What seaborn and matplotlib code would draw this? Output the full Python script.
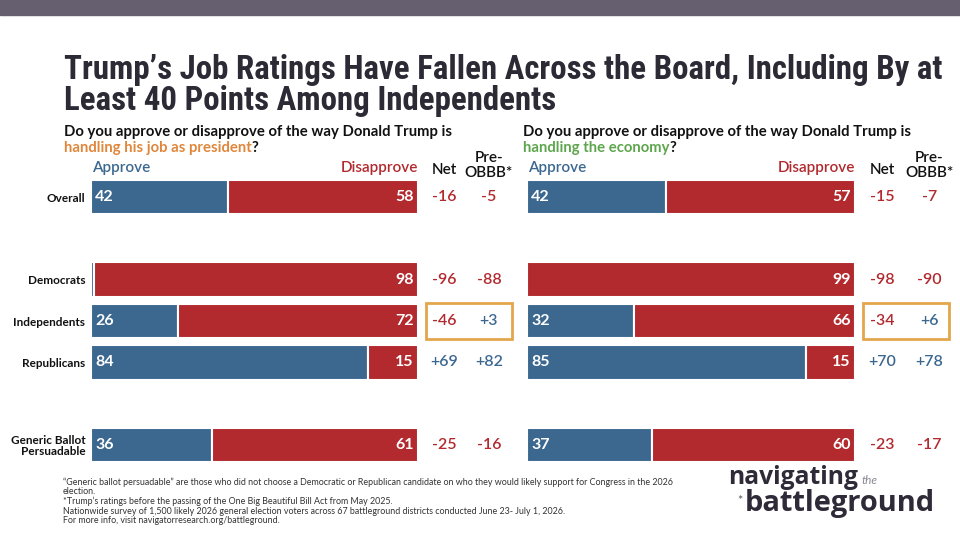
import matplotlib
matplotlib.use("Agg")
import matplotlib.pyplot as plt
import pandas as pd
import seaborn as sns
from matplotlib import font_manager
from matplotlib.patches import Rectangle

# ---- data -------------------------------------------------------------
groups = ["Overall", "Democrats", "Independents", "Republicans", "Generic Ballot\nPersuadable"]
row_order = ["Overall", "", "Democrats", "Independents", "Republicans", " ", "Generic Ballot\nPersuadable"]

job_approve = [42, 1, 26, 84, 36]
job_disapprove = [58, 98, 72, 15, 61]
job_net = [-16, -96, -46, 69, -25]
job_pre = [-5, -88, 3, 82, -16]

econ_approve = [42, 0, 32, 85, 37]
econ_disapprove = [57, 99, 66, 15, 60]
econ_net = [-15, -98, -34, 70, -23]
econ_pre = [-7, -90, 6, 78, -17]

highlight = "Independents"

title_lines = [
    "Trump\u2019s Job Ratings Have Fallen Across the Board, Including By at",
    "Least 40 Points Among Independents",
]
footnotes = [
    "\u201cGeneric ballot persuadable\u201d are those who did not choose a Democratic or Republican candidate on who they would likely support for Congress in the 2026",
    "election.",
    "*Trump\u2019s ratings before the passing of the One Big Beautiful Bill Act from May 2025.",
    "Nationwide survey of 1,500 likely 2026 general election voters across 67 battleground districts conducted June 23- July 1, 2026.",
    "For more info, visit navigatorresearch.org/battleground.",
]

# ---- style ------------------------------------------------------------
BLUE = "#3c6890"
RED = "#b2292e"
BOX = "#e2a64c"
ORANGE = "#e0873b"
GREEN = "#5ea64e"
DARK = "#2b2a35"
W, H = 960, 540

sns.set_style("white")
names = {f.name for f in font_manager.fontManager.ttflist}
condensed = [c for c in ["Roboto Condensed", "Liberation Sans Narrow", "Open Sans Condensed",
                         "DejaVu Sans Condensed", "Noto Sans Condensed"] if c in names]
TITLE_FONT = condensed[0] if condensed else "Roboto"
plt.rcParams["font.family"] = ["Lato", "DejaVu Sans"]

fig = plt.figure(figsize=(9.6, 5.4), dpi=100)
fig.patch.set_facecolor("white")
renderer = fig.canvas.get_renderer()


def fit_text(x, y, s, width_px, size, **kw):
    """Place a figure text and shrink/grow its size so it spans width_px."""
    t = fig.text(x / W, 1 - y / H, s, fontsize=size, va="center", **kw)
    w = t.get_window_extent(renderer).width
    t.set_fontsize(size * width_px / w)
    return t


# top band
fig.patches.append(Rectangle((0, 1 - 15 / H), 1, 15 / H, transform=fig.transFigure,
                             color="#665f6f", zorder=0))

t1 = fit_text(64, 70, title_lines[0], 877, 20, fontweight="bold", color=DARK, family=TITLE_FONT)
fig.text(64 / W, 1 - 101 / H, title_lines[1], fontsize=t1.get_fontsize(), fontweight="bold",
         color=DARK, family=TITLE_FONT, va="center")


def draw_panel(ax, approve, disapprove, net, pre, net_x, pre_x, show_labels):
    df = pd.DataFrame({"group": groups, "approve": approve, "disapprove": disapprove})
    total = df["approve"] + df["disapprove"]
    df["approve_share"] = df["approve"] / total * 100
    df["disapprove_share"] = df["disapprove"] / total * 100

    sns.barplot(data=df, x="approve_share", y="group", order=row_order, color=BLUE, saturation=1,
                width=0.84, edgecolor="white", linewidth=1.5, errorbar=None, ax=ax)
    sns.barplot(data=df, x="disapprove_share", y="group", order=row_order, color=RED, saturation=1,
                width=0.84, edgecolor="white", linewidth=1.5, errorbar=None, ax=ax)
    # stack disapprove after approve
    for bar in ax.containers[1]:
        bar.set_x(100 - bar.get_width())

    ax.set_xlim(0, 100)
    ax.set_ylim(6.5, -0.5)
    ax.set_xticks([])
    ax.set_xlabel("")
    ax.set_ylabel("")
    sns.despine(ax=ax, left=True, bottom=True)
    ax.tick_params(axis="y", length=0, pad=4)
    if show_labels:
        for lab in ax.get_yticklabels():
            lab.set_fontsize(8.5)
            lab.set_fontweight("bold")
            lab.set_color("#111111")
            lab.set_linespacing(1.0)
    else:
        ax.set_yticklabels([])

    for g, a, d, n, p in zip(groups, approve, disapprove, net, pre):
        y = row_order.index(g)
        if a >= 5:
            ax.text(1.3, y, str(a), color="white", fontsize=11.5, fontweight="bold",
                    va="center", ha="left")
        ax.text(98.6, y, str(d), color="white", fontsize=11.5, fontweight="bold",
                va="center", ha="right")
        ax.text(net_x, y, f"{n:+d}", color=RED if n < 0 else BLUE, fontsize=11.5,
                fontweight="semibold", va="center", ha="center", clip_on=False)
        ax.text(pre_x, y, f"{p:+d}", color=RED if p < 0 else BLUE, fontsize=11.5,
                fontweight="semibold", va="center", ha="center", clip_on=False)

    hy = row_order.index(highlight)
    ax.add_patch(Rectangle((102.3, hy - 0.44), 26.3, 0.88, fill=False, edgecolor=BOX,
                           linewidth=2, clip_on=False))

    ax.text(0.3, -0.7, "Approve", color=BLUE, fontsize=11, fontweight="semibold",
            va="center", ha="left")
    ax.text(100, -0.7, "Disapprove", color=RED, fontsize=11, fontweight="semibold",
            va="center", ha="right")
    ax.text(net_x, -0.66, "Net", color="#111111", fontsize=11, fontweight="semibold",
            va="center", ha="center", clip_on=False)
    ax.text(pre_x, -0.42, "Pre-\nOBBB*", color="#111111", fontsize=11, fontweight="semibold",
            va="bottom", ha="center", clip_on=False, linespacing=1.1)


ax_l = fig.add_axes([91 / W, 0.1376, 327 / W, 0.5358])
ax_r = fig.add_axes([527 / W, 0.1376, 328 / W, 0.5358])
ax_l.patch.set_alpha(0)
ax_r.patch.set_alpha(0)

draw_panel(ax_l, job_approve, job_disapprove, job_net, job_pre, 108.0, 121.7, True)
draw_panel(ax_r, econ_approve, econ_disapprove, econ_net, econ_pre, 108.2, 122.6, False)

# question text
q = "Do you approve or disapprove of the way Donald Trump is"
for x0, topic, col in [(64, "handling his job as president", ORANGE), (523, "handling the economy", GREEN)]:
    qt = fit_text(x0, 132, q, 389, 10.5, fontweight="bold", color="#111111")
    t = fig.text(x0 / W, 1 - 148 / H, topic, fontsize=qt.get_fontsize(), fontweight="bold",
                 color=col, va="center")
    bb = t.get_window_extent(renderer)
    fig.text(bb.x1 / fig.bbox.width, 1 - 148 / H, "?", fontsize=qt.get_fontsize(),
             fontweight="bold", color="#111111", va="center")

# footnotes
fn0 = fit_text(63, 482, footnotes[0], 609, 6.3, color="#333333")
for i, line in enumerate(footnotes[1:], start=1):
    fig.text(63 / W, 1 - (482 + i * 9.7) / H, line, fontsize=fn0.get_fontsize(),
             color="#333333", va="center")

# logo
nav = fit_text(728, 478, "navigating", 130, 18, fontweight="bold", color="#2f2a37", family="Open Sans")
nb = nav.get_window_extent(renderer)
fig.text(nb.x1 / W + 4 / W, 1 - 481 / H, "the", fontsize=8.5, style="italic",
         color="#8a8892", va="center")
fig.text(737 / W, 1 - 501 / H, "*", fontsize=9, color="#555555", va="center")
fit_text(745, 503, "battleground", 190, 19, fontweight="bold", color="#2f2a37", family="Open Sans")

fig.savefig("out.png", dpi=100)
